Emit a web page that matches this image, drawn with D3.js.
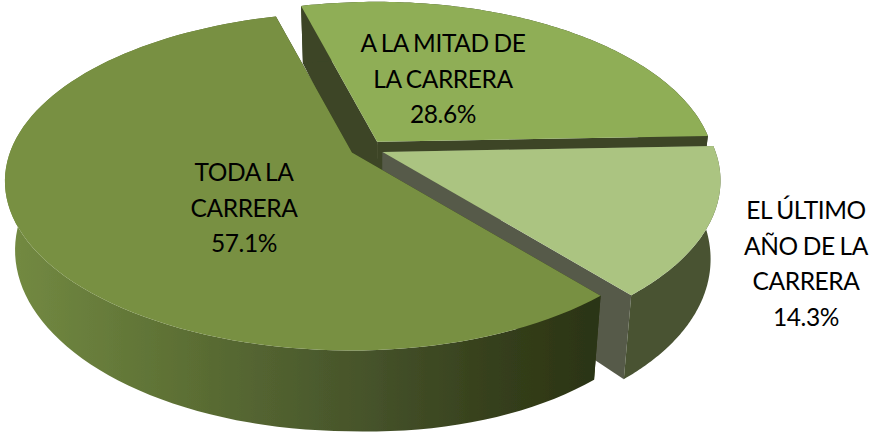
<!DOCTYPE html>
<html>
<head>
<meta charset="utf-8">
<script src="https://cdn.jsdelivr.net/npm/d3@7"></script>
<style>
  html, body { margin: 0; padding: 0; background: #fff; }
  text { font-family: "Lato", "Open Sans", sans-serif; fill: #000; }
</style>
</head>
<body>
<div id="chart"></div>
<script>
// chart data
const categories = ["A LA MITAD DE LA CARRERA", "EL ÚLTIMO AÑO DE LA CARRERA", "TODA LA CARRERA"];
const percents = [28.6, 14.3, 57.1];
const labelLines = [
  ["A LA MITAD DE", "LA CARRERA"],
  ["EL ÚLTIMO", "AÑO DE LA", "CARRERA"],
  ["TODA LA", "CARRERA"]
];
const topColors = ["#8fae57", "#abc481", "#789042"];
const wallColors = ["#3c4526", "#485233", "url(#todaWall)"];
const cutColors = ["#3c4526", "#565a4a", "#2c3513"];

const width = 869, height = 432;

// 3d view of the pie
const view = {cx: 367, cy: 148.5, rxLeft: 342, rxRight: 333, ry: 164, px: 0.17, py: 0.172, depth: 67, tilt: 0.14, taper: 0.028, ex: 17, ey: 8.4};
const startDeg = -15;

// rim point of a slice, o is the slice offset on screen
function project(u, v, z, o) {
  const s = 1 / (1 - view.px * v);
  const t = 1 / (1 - view.py * v);
  const x = view.cx + o[0] + (u < 0 ? view.rxLeft : view.rxRight) * u * s;
  const y = view.cy + o[1] + view.ry * v * t;
  const d = view.depth * s * (1 + view.tilt * Math.max(u, 0));
  return [view.cx + (x - view.cx) * (1 - view.taper * z), y + d * z];
}

const svg = d3.select("#chart")
  .append("svg")
    .attr("width", width)
    .attr("height", height);

const defs = svg.append("defs");

// the picture has soft edges
defs.append("filter")
  .attr("id", "soft")
  .append("feGaussianBlur")
    .attr("stdDeviation", 0.5);

// shading of the big slice wall, dark towards the front right
const grad = defs.append("linearGradient")
  .attr("id", "todaWall")
  .attr("gradientUnits", "userSpaceOnUse")
  .attr("x1", 10).attr("x2", 595).attr("y1", 0).attr("y2", 0);
[[0, "#738a42"], [0.3, "#5c6f34"], [0.62, "#45522a"], [0.82, "#36401c"], [1, "#2b3413"]].forEach(d => {
  grad.append("stop").attr("offset", d[0]).attr("stop-color", d[1]);
});

const pie = d3.pie()
  .sort(null)
  .startAngle(startDeg * Math.PI / 180)
  .endAngle((startDeg + 360) * Math.PI / 180);
const slices = pie(percents);
const line = d3.line();
const pieGroup = svg.append("g").attr("filter", "url(#soft)");

slices.forEach((d, i) => {
  const mid = (d.startAngle + d.endAngle) / 2;
  const o = [view.ex * Math.sin(mid), -view.ey * Math.cos(mid)];
  const rim = z => d3.range(0, 101).map(k => {
    const a = d.startAngle + (d.endAngle - d.startAngle) * k / 100;
    return project(Math.sin(a), -Math.cos(a), z, o);
  });
  const apex = z => project(0, 0, z, o);
  const g = pieGroup.append("g").attr("class", "slice");

  const r0 = rim(0), r1 = rim(1);
  // cut walls first, then the rim wall, then the top face
  g.append("path")
    .attr("d", line([apex(0), r0[0], r1[0], apex(1)]) + "Z")
    .attr("fill", cutColors[i]);
  g.append("path")
    .attr("d", line([apex(0), r0[100], r1[100], apex(1)]) + "Z")
    .attr("fill", cutColors[i]);
  g.append("path")
    .attr("d", line(r0.concat(r1.slice().reverse())) + "Z")
    .attr("fill", wallColors[i]);
  g.append("path")
    .attr("d", line([apex(0)].concat(r0)) + "Z")
    .attr("fill", topColors[i]);
});

// labels
const labelX = [443, 806, 244];
const labelY = [52, 219, 181];
const lineGap = 35.5;
categories.forEach((c, i) => {
  const t = svg.append("text")
    .attr("text-anchor", "middle")
    .attr("font-size", 24.5)
    .attr("letter-spacing", "-0.4")
    .attr("word-spacing", "-1");
  labelLines[i].concat(percents[i].toFixed(1) + "%").forEach((s, j) => {
    t.append("tspan")
      .attr("x", labelX[i])
      .attr("y", labelY[i] + j * lineGap)
      .text(s);
  });
});
</script>
</body>
</html>
